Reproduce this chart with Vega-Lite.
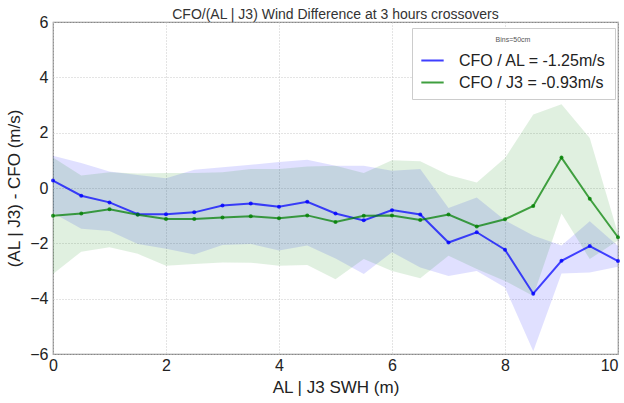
{
  "$schema": "https://vega.github.io/schema/vega-lite/v6.json",
  "width": 565,
  "height": 332,
  "autosize": {"type": "none"},
  "padding": {"left": 53, "top": 22, "right": 6, "bottom": 49},
  "title": {
    "text": "CFO/(AL | J3) Wind Difference at 3 hours crossovers",
    "font": "Liberation Sans",
    "fontSize": 14,
    "fontWeight": "normal",
    "color": "#333333",
    "anchor": "middle",
    "frame": "group",
    "offset": -8
  },
  "config": {
    "view": {"stroke": "#888888", "strokeWidth": 1.2},
    "axis": {
      "domain": false,
      "ticks": false,
      "grid": true,
      "gridColor": "#c8c8c8",
      "gridDash": [1, 2],
      "gridWidth": 1,
      "labelFont": "Liberation Sans",
      "labelFontSize": 16,
      "labelColor": "#222222",
      "titleFont": "Liberation Sans",
      "titleFontSize": 17,
      "titleFontWeight": "normal",
      "titleColor": "#222222"
    }
  },
  "data": {
    "values": [
      {"x": 0, "series": "CFO / AL = -1.25m/s", "band": "AL", "mean": 0.27, "lo": -0.9, "hi": 1.17},
      {"x": 0.5, "series": "CFO / AL = -1.25m/s", "band": "AL", "mean": -0.28, "lo": -1.47, "hi": 0.9},
      {"x": 1, "series": "CFO / AL = -1.25m/s", "band": "AL", "mean": -0.52, "lo": -1.55, "hi": 0.6},
      {"x": 1.5, "series": "CFO / AL = -1.25m/s", "band": "AL", "mean": -0.95, "lo": -2.02, "hi": 0.47},
      {"x": 2, "series": "CFO / AL = -1.25m/s", "band": "AL", "mean": -0.95, "lo": -2.2, "hi": 0.35},
      {"x": 2.5, "series": "CFO / AL = -1.25m/s", "band": "AL", "mean": -0.88, "lo": -2.4, "hi": 0.66},
      {"x": 3, "series": "CFO / AL = -1.25m/s", "band": "AL", "mean": -0.63, "lo": -2.06, "hi": 0.75},
      {"x": 3.5, "series": "CFO / AL = -1.25m/s", "band": "AL", "mean": -0.56, "lo": -2.02, "hi": 0.84},
      {"x": 4, "series": "CFO / AL = -1.25m/s", "band": "AL", "mean": -0.68, "lo": -2.26, "hi": 0.94},
      {"x": 4.5, "series": "CFO / AL = -1.25m/s", "band": "AL", "mean": -0.5, "lo": -2.08, "hi": 1.02},
      {"x": 5, "series": "CFO / AL = -1.25m/s", "band": "AL", "mean": -0.92, "lo": -2.55, "hi": 0.8},
      {"x": 5.5, "series": "CFO / AL = -1.25m/s", "band": "AL", "mean": -1.17, "lo": -3.11, "hi": 0.8},
      {"x": 6, "series": "CFO / AL = -1.25m/s", "band": "AL", "mean": -0.8, "lo": -2.32, "hi": 0.62},
      {"x": 6.5, "series": "CFO / AL = -1.25m/s", "band": "AL", "mean": -0.96, "lo": -2.87, "hi": 0.69},
      {"x": 7, "series": "CFO / AL = -1.25m/s", "band": "AL", "mean": -1.97, "lo": -3.18, "hi": -0.72},
      {"x": 7.5, "series": "CFO / AL = -1.25m/s", "band": "AL", "mean": -1.6, "lo": -3.0, "hi": -0.34},
      {"x": 8, "series": "CFO / AL = -1.25m/s", "band": "AL", "mean": -2.23, "lo": -3.6, "hi": -1.17},
      {"x": 8.5, "series": "CFO / AL = -1.25m/s", "band": "AL", "mean": -3.82, "lo": -5.9, "hi": -1.72},
      {"x": 9, "series": "CFO / AL = -1.25m/s", "band": "AL", "mean": -2.63, "lo": -3.09, "hi": -2.08},
      {"x": 9.5, "series": "CFO / AL = -1.25m/s", "band": "AL", "mean": -2.1, "lo": -3.05, "hi": -1.2},
      {"x": 10, "series": "CFO / AL = -1.25m/s", "band": "AL", "mean": -2.64, "lo": -2.85, "hi": -2.1},
      {"x": 0, "series": "CFO / J3 = -0.93m/s", "band": "J3", "mean": -1.0, "lo": -3.11, "hi": 1.1},
      {"x": 0.5, "series": "CFO / J3 = -0.93m/s", "band": "J3", "mean": -0.92, "lo": -2.3, "hi": 0.45},
      {"x": 1, "series": "CFO / J3 = -0.93m/s", "band": "J3", "mean": -0.77, "lo": -2.14, "hi": 0.57},
      {"x": 1.5, "series": "CFO / J3 = -0.93m/s", "band": "J3", "mean": -0.97, "lo": -2.38, "hi": 0.52},
      {"x": 2, "series": "CFO / J3 = -0.93m/s", "band": "J3", "mean": -1.12, "lo": -2.81, "hi": 0.54},
      {"x": 2.5, "series": "CFO / J3 = -0.93m/s", "band": "J3", "mean": -1.12, "lo": -2.75, "hi": 0.54},
      {"x": 3, "series": "CFO / J3 = -0.93m/s", "band": "J3", "mean": -1.07, "lo": -2.69, "hi": 0.57},
      {"x": 3.5, "series": "CFO / J3 = -0.93m/s", "band": "J3", "mean": -1.02, "lo": -2.7, "hi": 0.69},
      {"x": 4, "series": "CFO / J3 = -0.93m/s", "band": "J3", "mean": -1.09, "lo": -2.81, "hi": 0.69},
      {"x": 4.5, "series": "CFO / J3 = -0.93m/s", "band": "J3", "mean": -0.99, "lo": -2.78, "hi": 0.78},
      {"x": 5, "series": "CFO / J3 = -0.93m/s", "band": "J3", "mean": -1.23, "lo": -3.3, "hi": 0.8},
      {"x": 5.5, "series": "CFO / J3 = -0.93m/s", "band": "J3", "mean": -1.0, "lo": -2.57, "hi": 0.54},
      {"x": 6, "series": "CFO / J3 = -0.93m/s", "band": "J3", "mean": -0.99, "lo": -3.0, "hi": 1.0},
      {"x": 6.5, "series": "CFO / J3 = -0.93m/s", "band": "J3", "mean": -1.16, "lo": -3.26, "hi": 0.97},
      {"x": 7, "series": "CFO / J3 = -0.93m/s", "band": "J3", "mean": -0.96, "lo": -2.45, "hi": 0.47},
      {"x": 7.5, "series": "CFO / J3 = -0.93m/s", "band": "J3", "mean": -1.39, "lo": -2.93, "hi": 0.2},
      {"x": 8, "series": "CFO / J3 = -0.93m/s", "band": "J3", "mean": -1.13, "lo": -3.36, "hi": 1.08},
      {"x": 8.5, "series": "CFO / J3 = -0.93m/s", "band": "J3", "mean": -0.65, "lo": -3.9, "hi": 2.66},
      {"x": 9, "series": "CFO / J3 = -0.93m/s", "band": "J3", "mean": 1.1, "lo": -0.92, "hi": 3.03},
      {"x": 9.5, "series": "CFO / J3 = -0.93m/s", "band": "J3", "mean": -0.39, "lo": -2.57, "hi": 1.81},
      {"x": 10, "series": "CFO / J3 = -0.93m/s", "band": "J3", "mean": -1.78, "lo": -1.9, "hi": -1.65}
    ]
  },
  "encoding": {
    "x": {
      "field": "x",
      "type": "quantitative",
      "scale": {"domain": [0, 10], "nice": false, "zero": false},
      "axis": {
        "title": "AL | J3 SWH (m)",
        "values": [0, 2, 4, 6, 8, 10],
        "labelPadding": 3,
        "titlePadding": 6,
        "labelFlush": false,
        "labelAlign": {"expr": "datum.value == 10 ? 'right' : 'center'"},
        "labelDx": {"expr": "datum.value == 10 ? 5 : 0"}
      }
    }
  },
  "layer": [
    {
      "mark": {"type": "area", "opacity": 0.12},
      "encoding": {
        "y": {
          "field": "lo",
          "type": "quantitative",
          "scale": {"domain": [-6, 6], "nice": false},
          "axis": {"title": "(AL | J3) - CFO (m/s)", "values": [-6, -4, -2, 0, 2, 4, 6], "labelPadding": 5, "titlePadding": 6, "labelFlush": false}
        },
        "y2": {"field": "hi"},
        "fill": {
          "field": "band",
          "type": "nominal",
          "scale": {"domain": ["AL", "J3"], "range": ["#0000ff", "#008000"]},
          "legend": null
        }
      }
    },
    {
      "mark": {"type": "line", "strokeWidth": 2, "opacity": 0.72, "point": {"filled": true, "size": 16, "opacity": 0.8}},
      "encoding": {
        "y": {"field": "mean", "type": "quantitative"},
        "color": {
          "field": "series",
          "type": "nominal",
          "scale": {"domain": ["CFO / AL = -1.25m/s", "CFO / J3 = -0.93m/s"], "range": ["#0000ff", "#008000"]},
          "legend": {
            "title": "Bins=50cm",
            "orient": "none",
            "legendX": 359,
            "legendY": 6,
            "titleFont": "Liberation Sans",
            "titleFontSize": 7,
            "titleFontWeight": "normal",
            "titleColor": "#555555",
            "titleAnchor": "middle",
            "titlePadding": 5,
            "labelFont": "Liberation Sans",
            "labelFontSize": 16,
            "labelColor": "#222222",
            "labelOffset": 14,
            "symbolType": "stroke",
            "symbolSize": 500,
            "symbolStrokeWidth": 2,
            "symbolOpacity": 0.75,
            "rowPadding": 1,
            "padding": 8,
            "strokeColor": "#cccccc",
            "fillColor": "#ffffff"
          }
        }
      }
    }
  ]
}
